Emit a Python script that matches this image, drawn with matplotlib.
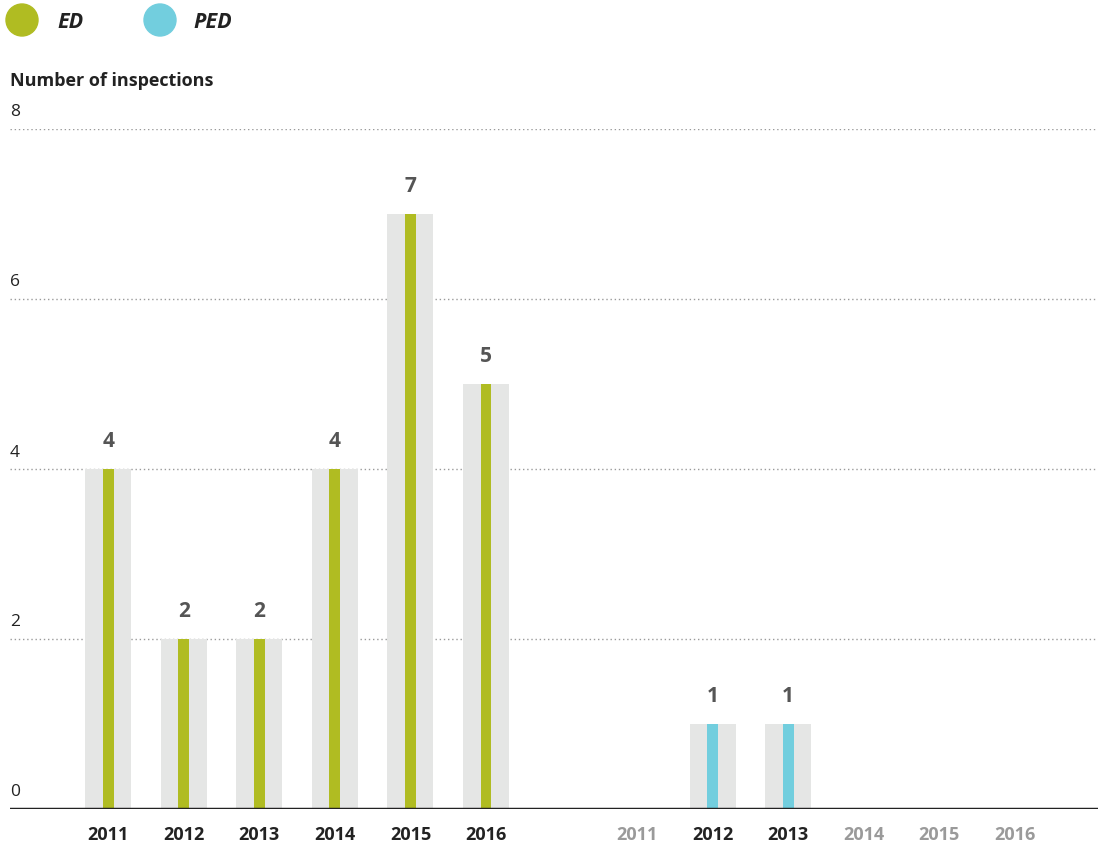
import matplotlib
matplotlib.use("Agg")
import matplotlib.pyplot as plt
from matplotlib.patches import Circle

years = ["2011", "2012", "2013", "2014", "2015", "2016"]
ed_values = [4, 2, 2, 4, 7, 5]
ped_values = [0, 1, 1, 0, 0, 0]
y_ticks = [0, 2, 4, 6, 8]

GREEN = "#B0BC22"
CYAN = "#72CEDE"
SHADE = "#E5E6E5"
VALUE_COL = "#555555"
DARK = "#222222"
MUTED = "#9A9A9A"

plt.rcParams["font.family"] = ["Open Sans", "DejaVu Sans"]

fig = plt.figure(figsize=(10.98, 8.49), dpi=100)
ax = fig.add_axes([10 / 1098, 40 / 849, 1 - 10 / 1098, 680 / 849])

ed_pos = list(range(len(years)))
ped_pos = [p + len(years) + 1 for p in ed_pos]

def draw_group(positions, values, colour):
    for x, v, yr in zip(positions, values, years):
        if v > 0:
            ax.bar(x, v, width=0.61, color=SHADE, zorder=2)
            ax.bar(x, v, width=0.145, color=colour, zorder=3)
            ax.text(x, v + 0.2, str(v), ha="center", va="bottom",
                    fontsize=15, fontweight="bold", color=VALUE_COL)
        ax.text(x, -0.2, yr, ha="center", va="top", fontsize=13,
                fontweight="bold", color=DARK if v > 0 else MUTED)

draw_group(ed_pos, ed_values, GREEN)
draw_group(ped_pos, ped_values, CYAN)

left = -1.3
right = 13.1
ax.set_xlim(left, right)
ax.set_ylim(0, 8)

for t in y_ticks[1:]:
    ax.axhline(t, color="#9A9A9A", lw=1.0, ls=(0, (1, 2)), zorder=1)
for t in y_ticks:
    ax.text(left, t + 0.1, str(t), ha="left", va="bottom",
            fontsize=12.5, color=DARK)

ax.axhline(0, color=DARK, lw=2.5, zorder=4)

for s in ax.spines.values():
    s.set_visible(False)
ax.set_xticks([])
ax.set_yticks([])
ax.patch.set_alpha(0)

# y-axis caption
fig.text(10 / 1098, 1 - 81 / 849, "Number of inspections", ha="left",
         va="center", fontsize=13, fontweight="bold", color=DARK)

# legend: dots placed in inches so they stay circular
for cx, colour, label, tx in [(22, GREEN, "ED", 57), (160, CYAN, "PED", 193)]:
    fig.patches.append(Circle((cx / 100, (849 - 20) / 100), 0.16,
                              transform=fig.dpi_scale_trans, color=colour))
    fig.text(tx / 1098, 1 - 22 / 849, label, ha="left", va="center",
             fontsize=15.5, fontweight="bold", fontstyle="italic", color=DARK)

fig.savefig("out.png", dpi=100)
